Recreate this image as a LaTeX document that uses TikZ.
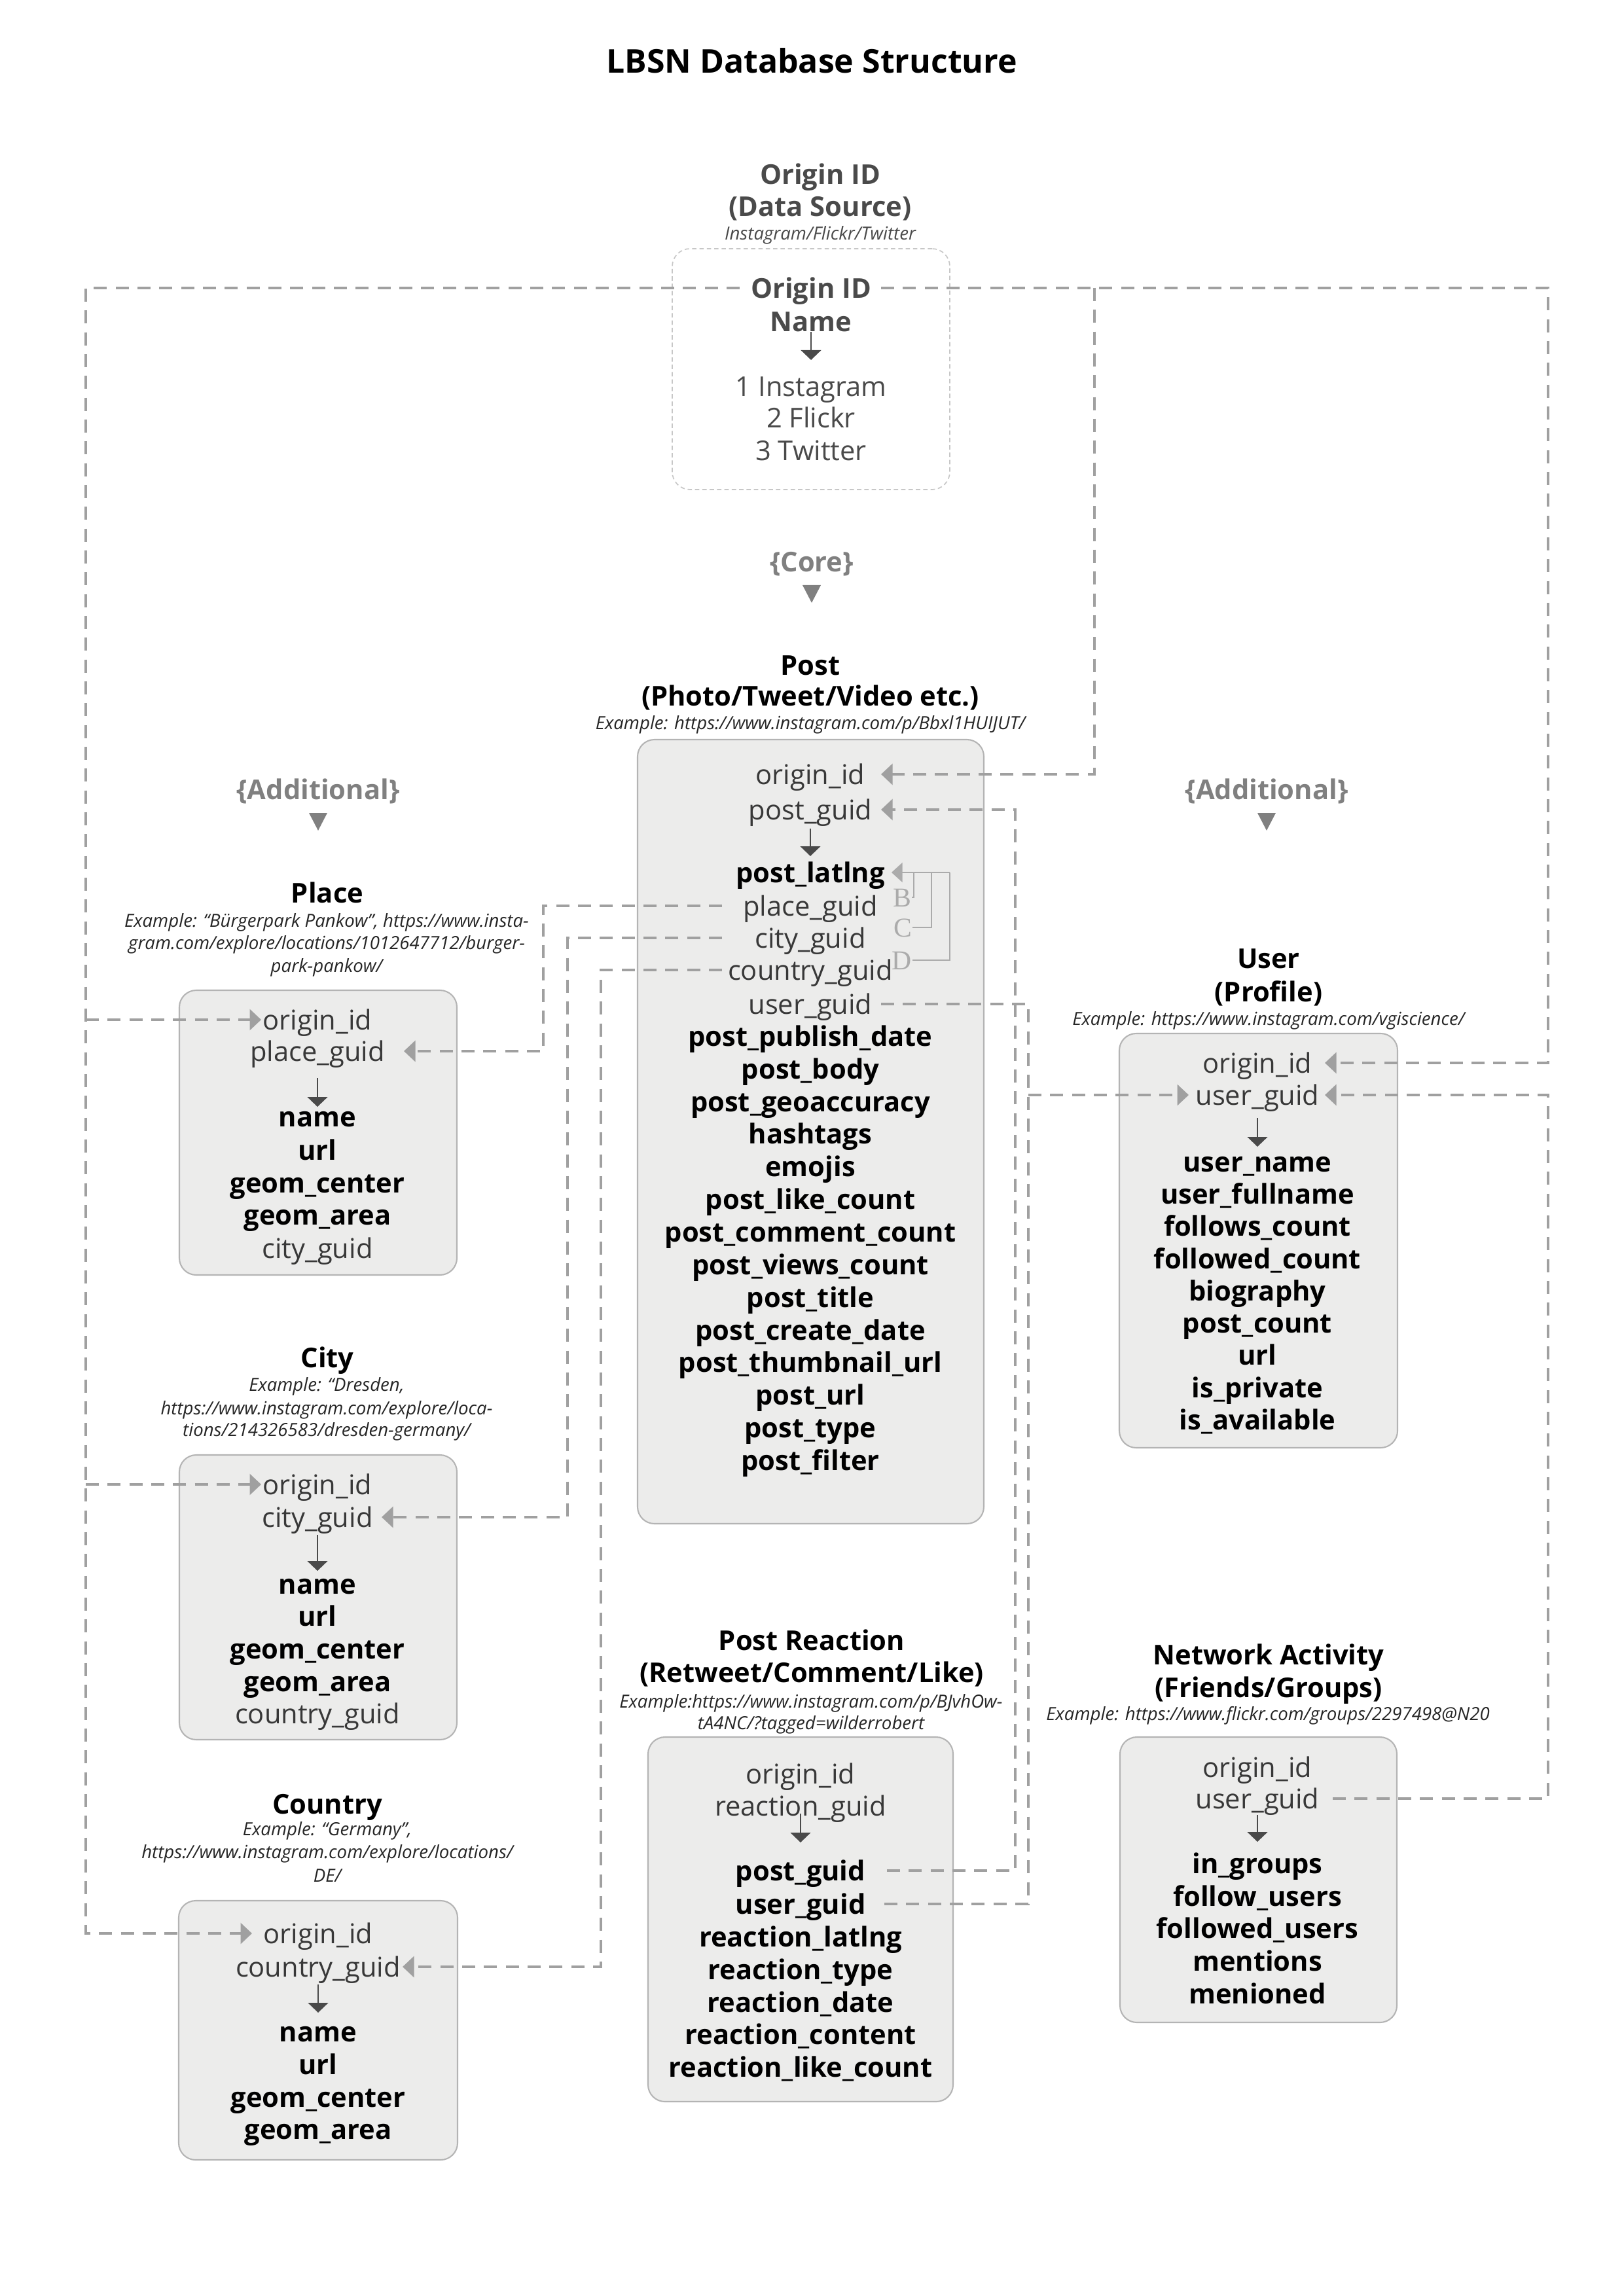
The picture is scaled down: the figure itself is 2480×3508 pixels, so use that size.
\documentclass[tikz,border=0pt]{standalone}
\usepackage{fontspec}
\setmainfont{Open Sans}
\newfontfamily\letterfont{Liberation Serif}
\usetikzlibrary{arrows.meta,fit}
\definecolor{connc}{HTML}{A0A0A0}
\definecolor{boxfill}{HTML}{ECECEB}
\definecolor{boxline}{HTML}{B4B4B4}
\definecolor{darkg}{HTML}{4A4A4A}
\definecolor{midg}{HTML}{808080}
\definecolor{lightf}{HTML}{383838}
\definecolor{bracketc}{HTML}{ABABAB}
\begin{document}
\begin{tikzpicture}[x=0.24pt,y=-0.24pt,
  lt/.style={inner sep=0pt, text height=9.4pt, text depth=2pt, font=\fontsize{10}{12}\selectfont, text=lightf},
  bd/.style={inner sep=0pt, text height=9.4pt, text depth=2pt, font=\fontsize{10}{12}\selectfont\bfseries, text=black},
  hd/.style={bd},
  ex/.style={inner sep=0pt, text height=6pt, text depth=0.7pt, font=\fontsize{6.63}{8}\selectfont\itshape, text=black!85},
  sect/.style={bd, text=midg},
  tbl/.style={draw=boxline, fill=boxfill, line width=0.5pt, rounded corners=6.2pt, inner sep=0pt},
  conn/.style={draw=connc, line width=1.1pt, dash pattern=on 4.8pt off 3.2pt},
  tipped/.style={-{Triangle[length=4.2pt,width=7.6pt]}},
  key/.style={draw=darkg, line width=0.45pt, -{Triangle[length=3.6pt,width=7.4pt]}},
  bracket/.style={draw=bracketc, line width=0.45pt},
  lbl/.style={inner sep=0pt, text height=7pt, text depth=0pt, font=\letterfont\fontsize{10}{12}\selectfont, text=bracketc},
  tri/.style={fill=midg},
]
\fill[white] (0,0) rectangle (2480,3508);
\useasboundingbox (0,0) rectangle (2480,3508);

% ---------- title
\node[bd, font=\fontsize{12}{14}\selectfont\bfseries, text height=10.6pt, text depth=2.4pt] (title) at (1240,94) {LBSN Database Structure};

% ---------- Origin ID
\node[hd, text=darkg] (oh1) at (1253,266) {Origin ID};
\node[hd, text=darkg] (oh2) at (1253,315) {(Data Source)};
\node[ex, text=darkg] (oh3) at (1253,355) {Instagram/Flickr/Twitter};
\node[draw=black!22, line width=0.4pt, dash pattern=on 1.6pt off 1.1pt, rounded corners=6.5pt, inner sep=0pt, fit={(1027,380) (1451,748)}] (oidbox) {};
\node[hd, text=darkg] (oid-id) at (1239,440) {Origin ID};
\node[hd, text=darkg] (oid-name) at (1239,491) {Name};
\draw[key] (oid-name.center) ++(0,16) -- ++(0,43);
\node[lt, text=darkg] (oid-1) at (1239,590) {1 Instagram};
\node[lt, text=darkg] (oid-2) at (1239,638) {2 Flickr};
\node[lt, text=darkg] (oid-3) at (1239,688) {3 Twitter};

% ---------- section labels
\node[sect] (core) at (1240,858) {\{Core\}};
\fill[tri] (core.center) ++(-14,36) -- ++(28,0) -- ++(-14,27) -- cycle;
\node[sect] (addL) at (486,1206) {\{Additional\}};
\fill[tri] (addL.center) ++(-14,36) -- ++(28,0) -- ++(-14,27) -- cycle;
\node[sect] (addR) at (1935,1206) {\{Additional\}};
\fill[tri] (addR.center) ++(-14,36) -- ++(28,0) -- ++(-14,27) -- cycle;

% ---------- Post
\node[hd] (post-h1) at (1238,1016) {Post};
\node[hd] (post-h2) at (1238,1063) {(Photo/Tweet/Video etc.)};
\node[ex] (post-ex) at (1238,1103) {Example: https://www.instagram.com/p/Bbxl1HUIJUT/};
\node[tbl, fit={(974,1130) (1503,2328)}] (postbox) {};
\node[lt] (post-orig) at (1238,1183) {origin\_id};
\node[lt] (post-guid) at (1238,1237) {post\_guid};
\draw[key] (post-guid.center) ++(0,29) -- ++(0,42);
\node[bd] (post-latlng) at (1238,1333) {post\_latlng};
\node[lt] (post-place) at (1238,1384) {place\_guid};
\node[lt] (post-city) at (1238,1433) {city\_guid};
\node[lt] (post-country) at (1238,1482) {country\_guid};
\node[lt] (post-user) at (1238,1534) {user\_guid};
\foreach \t [count=\i from 0] in {post\_publish\_date, post\_body, post\_geoaccuracy, hashtags, emojis, post\_like\_count, post\_comment\_count, post\_views\_count, post\_title, post\_create\_date, post\_thumbnail\_url, post\_url, post\_type, post\_filter}
  \node[bd] (post-b\i) at (1238,{1583+49.85*\i}) {\t};

% B / C / D
\node[lbl] (lblB) at (1378,1371) {B};
\node[lbl] (lblC) at (1379,1417) {C};
\node[lbl] (lblD) at (1378,1467) {D};

% ---------- Place
\node[hd] (pl-h) at (500,1364) {Place};
\node[ex] (pl-ex1) at (499,1405) {Example: “Bürgerpark Pankow”, https://www.insta-};
\node[ex] (pl-ex2) at (499,1439) {gram.com/explore/locations/1012647712/burger-};
\node[ex] (pl-ex3) at (499,1474) {park-pankow/};
\node[tbl, fit={(274,1513) (698,1948)}] (plbox) {};
\node[lt] (pl-orig) at (485,1558) {origin\_id};
\node[lt] (pl-guid) at (485,1606) {place\_guid};
\draw[key] (pl-guid.center) ++(0,41) -- ++(0,44);
\node[bd] (pl-b0) at (485,1706) {name};
\node[bd] (pl-b1) at (485,1757) {url};
\node[bd] (pl-b2) at (485,1807) {geom\_center};
\node[bd] (pl-b3) at (485,1856) {geom\_area};
\node[lt] (pl-city) at (485,1907) {city\_guid};

% ---------- City
\node[hd] (ci-h) at (500,2074) {City};
\node[ex] (ci-ex1) at (499,2114) {Example: “Dresden,};
\node[ex] (ci-ex2) at (499,2150) {https://www.instagram.com/explore/loca-};
\node[ex] (ci-ex3) at (499,2183) {tions/214326583/dresden-germany/};
\node[tbl, fit={(274,2223) (698,2658)}] (cibox) {};
\node[lt] (ci-orig) at (485,2268) {origin\_id};
\node[lt] (ci-guid) at (485,2318) {city\_guid};
\draw[key] (ci-guid.center) ++(0,27) -- ++(0,55);
\node[bd] (ci-b0) at (485,2420) {name};
\node[bd] (ci-b1) at (485,2469) {url};
\node[bd] (ci-b2) at (485,2519) {geom\_center};
\node[bd] (ci-b3) at (485,2569) {geom\_area};
\node[lt] (ci-country) at (485,2618) {country\_guid};

% ---------- Country
\node[hd] (co-h) at (500,2756) {Country};
\node[ex] (co-ex1) at (500,2793) {Example: “Germany”,};
\node[ex] (co-ex2) at (500,2828) {https://www.instagram.com/explore/locations/};
\node[ex] (co-ex3) at (500,2864) {DE/};
\node[tbl, fit={(273,2904) (699,3300)}] (cobox) {};
\node[lt] (co-orig) at (486,2954) {origin\_id};
\node[lt] (co-guid) at (486,3005) {country\_guid};
\draw[key] (co-guid.center) ++(0,27) -- ++(0,43);
\node[bd] (co-b0) at (486,3104) {name};
\node[bd] (co-b1) at (486,3154) {url};
\node[bd] (co-b2) at (486,3204) {geom\_center};
\node[bd] (co-b3) at (486,3253) {geom\_area};

% ---------- User
\node[hd] (us-h1) at (1938,1464) {User};
\node[hd] (us-h2) at (1938,1515) {(Profile)};
\node[ex] (us-ex) at (1938,1555) {Example: https://www.instagram.com/vgiscience/};
\node[tbl, fit={(1710,1579) (2135,2212)}] (usbox) {};
\node[lt] (us-orig) at (1921,1624) {origin\_id};
\node[lt] (us-guid) at (1921,1673) {user\_guid};
\draw[key] (us-guid.center) ++(0,35) -- ++(0,44);
\foreach \t [count=\i from 0] in {user\_name, user\_fullname, follows\_count, followed\_count, biography, post\_count, url, is\_private, is\_available}
  \node[bd] (us-b\i) at (1921,{1775+49.25*\i}) {\t};

% ---------- Post Reaction
\node[hd] (re-h1) at (1240,2506) {Post Reaction};
\node[hd] (re-h2) at (1240,2555) {(Retweet/Comment/Like)};
\node[ex] (re-ex1) at (1239,2598) {Example:https://www.instagram.com/p/BJvhOw-};
\node[ex] (re-ex2) at (1239,2631) {tA4NC/?tagged=wilderrobert};
\node[tbl, fit={(990,2654) (1456,3211)}] (rebox) {};
\node[lt] (re-orig) at (1223,2710) {origin\_id};
\node[lt] (re-guid) at (1223,2759) {reaction\_guid};
\draw[key] (re-guid.center) ++(0,12) -- ++(0,44);
\node[bd] (re-post) at (1223,2858) {post\_guid};
\node[bd] (re-user) at (1223,2909) {user\_guid};
\foreach \t [count=\i from 0] in {reaction\_latlng, reaction\_type, reaction\_date, reaction\_content, reaction\_like\_count}
  \node[bd] (re-b\i) at (1223,{2959+49.8*\i}) {\t};

% ---------- Network Activity
\node[hd] (na-h1) at (1938,2528) {Network Activity};
\node[hd] (na-h2) at (1938,2578) {(Friends/Groups)};
\node[ex] (na-ex) at (1937,2617) {Example: https://www.flickr.com/groups/2297498@N20};
\node[tbl, fit={(1711,2654) (2134,3090)}] (nabox) {};
\node[lt] (na-orig) at (1921,2700) {origin\_id};
\node[lt] (na-user) at (1921,2748) {user\_guid};
\draw[key] (na-user.center) ++(0,25) -- ++(0,41);
\foreach \t [count=\i from 0] in {in\_groups, follow\_users, followed\_users, mentions, menioned}
  \node[bd] (na-b\i) at (1921,{2847+49.75*\i}) {\t};

% ---------- column coordinates for connectors
\coordinate (cOL) at (1130,0);
\coordinate (cL) at (131,0);
\coordinate (tPl) at (399,0);
\coordinate (tCo) at (385,0);
\coordinate (cPR) at (1346,0);
\coordinate (cR) at (2365,0);
\coordinate (tUR) at (2024,0);
\coordinate (cBr) at (1672,0);
\coordinate (cRP) at (1355,0);
\coordinate (cPG) at (1551,0);
\coordinate (cPU) at (1571,0);
\coordinate (tUL) at (1816,0);
\coordinate (cNA) at (2036,0);
\coordinate (cPL) at (1103,0);
\coordinate (cXP) at (830,0);
\coordinate (cXC) at (867,0);
\coordinate (cXO) at (918,0);
\coordinate (tPlG) at (617,0);
\coordinate (tCiG) at (583,0);
\coordinate (tCoG) at (615,0);
\coordinate (xB) at (1396,0);
\coordinate (xC) at (1423,0);
\coordinate (xD) at (1451,0);
\coordinate (tLat) at (1362,0);

% ---------- connectors
% origin id -> left tables
\draw[conn,tipped] (oid-id -| cOL) -- (oid-id -| cL) -- (co-orig -| cL) -- (co-orig -| tCo);
\draw[conn,tipped] (pl-orig -| cL) -- (pl-orig -| tPl);
\draw[conn,tipped] (ci-orig -| cL) -- (ci-orig -| tPl);
% origin id -> post and user
\draw[conn,tipped] (oid-id -| cPR) -- (oid-id -| cR) -- (us-orig -| cR) -- (us-orig -| tUR);
\draw[conn,tipped] (oid-id -| cBr) -- (post-orig -| cBr) -- (post-orig -| cPR);
% reaction post_guid -> post post_guid
\draw[conn,tipped] (re-post -| cRP) -- (re-post -| cPG) -- (post-guid -| cPG) -- (post-guid -| cPR);
% post user_guid / reaction user_guid -> user
\draw[conn] (post-user -| cPR) -- (post-user -| cPU) -- (re-user -| cPU) -- (re-user -| cPR);
\draw[conn,tipped] (us-guid -| cPU) -- (us-guid -| tUL);
% network user_guid -> user
\draw[conn,tipped] (na-user -| cNA) -- (na-user -| cR) -- (us-guid -| cR) -- (us-guid -| tUR);
% post place/city/country -> tables
\draw[conn,tipped] (post-place -| cPL) -- (post-place -| cXP) -- (pl-guid -| cXP) -- (pl-guid -| tPlG);
\draw[conn,tipped] (post-city -| cPL) -- (post-city -| cXC) -- (ci-guid -| cXC) -- (ci-guid -| tCiG);
\draw[conn,tipped] (post-country -| cPL) -- (post-country -| cXO) -- (co-guid -| cXO) -- (co-guid -| tCoG);
% B/C/D bracket
\draw[bracket, -{Triangle[length=4pt,width=7.2pt]}] (post-latlng -| xD) -- (post-latlng -| tLat);
\draw[bracket] (post-latlng -| xB) |- (lblB.east);
\draw[bracket] (post-latlng -| xC) |- (lblC.east);
\draw[bracket] (post-latlng -| xD) |- (lblD.east);
\end{tikzpicture}
\end{document}
